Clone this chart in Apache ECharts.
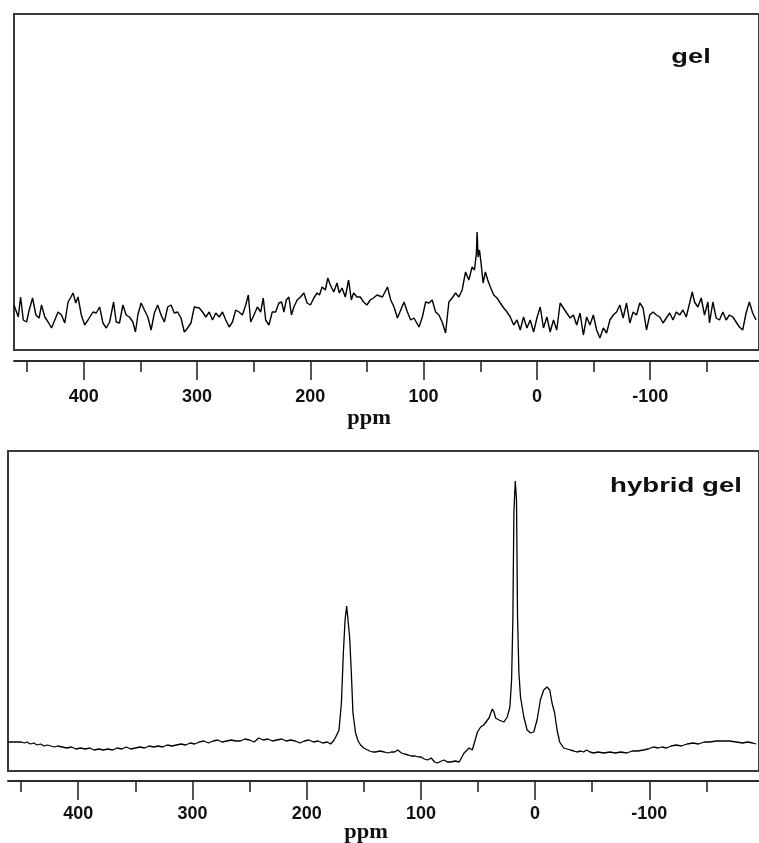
<!DOCTYPE html>
<html><head><meta charset="utf-8">
<script src="https://cdn.jsdelivr.net/npm/echarts@6/dist/echarts.min.js"></script>
<style>html,body{margin:0;padding:0;background:#fff}#c{width:759px;height:843px}</style>
</head><body><div id="c"></div>
<script>
// ---- data ----
const ppmMin = -196, ppmMax = 461.5;
const majorTicks = [400, 300, 200, 100, 0, -100];
const minorTicks = [450, 350, 250, 150, 50, -50, -150];
const axisName = 'ppm';
const topLabel = 'gel';
const bottomLabel = 'hybrid gel';

const topPpm = [461.5,459.8,457.7,455.7,453.3,450.4,448.1,445.1,442.2,439.3,437.2,434.3,431.4,428.4,425.5,422.6,419.6,416.7,413.8,411.7,409.4,407.0,405.0,402.1,399.1,396.2,391.8,388.9,385.9,383.0,380.1,377.1,373.6,371.3,368.4,365.4,362.5,359.6,356.6,354.3,352.2,349.3,346.4,343.4,340.5,337.6,334.7,331.7,328.8,325.9,322.9,320.0,317.1,314.1,311.2,308.3,305.3,302.4,298.0,295.1,292.2,289.2,286.3,283.4,280.4,277.5,274.6,271.6,268.7,265.8,262.9,259.9,257.0,254.7,252.6,249.7,246.7,243.8,241.5,239.4,236.5,233.6,230.6,227.7,225.3,223.3,221.2,218.9,216.6,214.5,211.6,208.6,205.7,202.8,199.9,196.9,194.0,191.9,189.6,186.7,184.6,182.3,179.3,176.4,174.4,172.0,169.1,166.2,163.8,161.8,158.8,155.9,153.0,150.0,147.1,144.2,141.2,136.3,131.9,129.0,126.1,123.1,120.2,117.3,114.3,111.4,108.5,104.1,101.1,98.2,95.3,92.4,89.4,86.5,83.6,80.6,77.7,74.8,71.8,68.9,66.0,63.0,60.1,57.2,55.1,53.4,52.8,51.9,50.7,49.3,47.5,45.5,43.4,41.1,38.1,35.2,32.3,29.3,26.4,23.5,20.5,17.6,14.7,11.8,8.8,5.9,2.9,0.0,-2.9,-5.8,-8.8,-11.7,-14.6,-17.5,-20.5,-23.4,-26.3,-29.3,-32.2,-35.1,-38.1,-41.0,-43.9,-46.8,-49.8,-52.7,-55.6,-58.6,-61.5,-64.4,-67.4,-70.3,-73.2,-76.1,-79.1,-82.0,-84.9,-87.9,-90.8,-93.7,-96.7,-99.6,-102.5,-105.5,-108.4,-111.3,-114.2,-117.2,-120.1,-123.0,-126.0,-128.9,-131.8,-134.8,-137.1,-139.1,-142.1,-145.0,-147.9,-150.9,-152.3,-155.3,-158.2,-161.1,-164.1,-167.0,-169.9,-172.9,-175.8,-178.7,-181.6,-184.6,-187.5,-190.4,-193.4];
const topIntensity = [45,45,33,53,30,28,40,52,35,32,45,33,28,22,30,38,35,27,48,52,57,47,53,35,25,30,38,37,43,27,22,28,48,28,27,45,35,33,28,18,35,47,40,33,20,37,45,35,28,43,45,37,38,32,18,22,27,43,42,38,33,38,30,37,33,38,30,23,28,40,38,35,45,55,28,35,43,38,52,30,25,38,38,47,48,38,50,53,35,43,50,53,57,47,45,52,57,55,63,60,72,65,58,67,57,62,53,70,50,57,53,53,48,45,50,52,55,53,63,50,43,32,40,48,38,30,32,23,33,48,47,50,38,35,28,17,48,52,57,53,60,78,70,83,80,97,118,93,100,87,67,78,70,63,55,52,47,42,38,33,25,30,20,33,22,30,18,32,43,22,33,18,30,20,47,42,37,32,35,25,37,15,33,25,35,20,12,22,17,30,35,38,45,32,47,27,38,35,47,42,20,35,38,35,33,27,32,37,30,38,35,40,33,47,58,48,43,52,35,48,27,48,32,30,38,30,35,33,28,23,20,37,48,37,30];

const bottomPpm = [461,455,450,447,444.7,442,439,436,433,430,427,424,421,418,414,410,406,402,398,394,390,386,382,378,374,370,366,362,358,354,350,346,342,338,334,330,326,322,318,314,310,306,302,298,294,290,286,282,278,274,270,266,262,258,254,250,246,242,238,234,230,226,222,218,214,210,206,202,198,194,190,186,182,179,176,174.6,171.7,169.6,167.9,166.4,165.0,163.5,162.4,160.9,159.5,157.2,155,152.8,150,148.4,145,142,139.7,136,132,129,126,123,120.3,117,114.5,111,108.7,105,102,99.9,97,94.1,91,88,85.4,82,79.6,77,73.8,70,66.5,62.2,57.8,55,53.5,50.5,47.7,45,43.3,40.4,37.5,36,34.6,31.7,27.3,24.4,22.1,20.6,19.5,18.6,17.4,16.3,15.4,14.2,12.8,9.9,7.0,4.1,1.2,-1.7,-4.6,-7.5,-10.4,-12.8,-14.8,-17.1,-19.2,-21.5,-25.0,-28,-30.8,-34,-36.6,-40,-42.4,-45,-48,-51.1,-55,-60,-65.6,-70,-75,-80.2,-85,-90,-94.7,-99,-103.4,-108,-111,-115.0,-119,-123.7,-128,-133,-138.3,-143,-148,-152.8,-158.6,-164,-170.2,-176.0,-181.8,-186,-190.5,-193.5];
const bottomIntensity = [29,29,29,28,29,27,28,26,27,25,26,25,24,25,24,23,24,22,23,22,23,21,22,21,22,21,23,22,24,22,23,24,23,25,24,25,24,26,25,26,27,26,28,27,29,30,28,30,31,29,30,31,30,30,32,31,29,33,31,32,30,31,32,30,31,30,28,30,31,29,30,28,29,27,31,34,41,68,118,151,165,163,134,98,58,38,30,26,23,21,20,19,19,20,19,18,19,19,21,18,17,16,15,15,14,14,12,11,13,9,8,10,11,9,9,10,9,18,23,21,22,39,44,46,48,53,62,59,53,51,49,54,64,91,151,258,290,271,154,98,74,54,41,38,39,51,71,81,84,81,68,58,41,29,23,22,21,20,19,20,19,21,19,18,19,18,19,18,19,18,20,20,21,22,24,23,24,23,25,26,25,27,28,27,29,29,30,30,30,29,28,29,28,27];

const pair = (xs, ys) => xs.map((x, i) => [x, ys[i]]);

const chart = echarts.init(document.getElementById('c'), null, {renderer: 'canvas'});
const axisColor = '#2a2a2a';
function majorAxis(gridIndex, offset, margin) {
  return {
    type: 'value', gridIndex, min: ppmMin, max: ppmMax, inverse: true, position: 'bottom', offset,
    axisLine: {show: true, onZero: false, lineStyle: {color: axisColor, width: 2}},
    axisTick: {show: true, customValues: majorTicks, length: 19, lineStyle: {color: axisColor, width: 1.6}},
    axisLabel: {show: true, customValues: majorTicks, margin, fontFamily: 'Liberation Sans', fontWeight: 'bold', fontSize: 18, color: '#111'},
    splitLine: {show: false}
  };
}
function minorAxis(gridIndex, offset) {
  return {
    type: 'value', gridIndex, min: ppmMin, max: ppmMax, inverse: true, position: 'bottom', offset,
    axisLine: {show: false, onZero: false},
    axisTick: {show: true, customValues: minorTicks, length: 11, lineStyle: {color: axisColor, width: 1.6}},
    axisLabel: {show: false},
    splitLine: {show: false}
  };
}
function labelText(text, x, y, font, sx) {
  return {type: 'text', x, y, scaleX: sx, z: 100,
    style: {text, font, fill: '#111', textAlign: 'center', textVerticalAlign: 'middle'}};
}

chart.setOption({
  animation: false,
  backgroundColor: '#fff',
  grid: [
    {left: 14, top: 14, width: 747, height: 336, show: true, borderColor: '#3a3a3a', borderWidth: 2, backgroundColor: 'transparent'},
    {left: 8, top: 451, width: 753, height: 320, show: true, borderColor: '#3a3a3a', borderWidth: 2, backgroundColor: 'transparent'}
  ],
  xAxis: [majorAxis(0, 11, 27), minorAxis(0, 11), majorAxis(1, 10, 24), minorAxis(1, 10)],
  yAxis: [
    {type: 'value', gridIndex: 0, min: 0, max: 336, show: false},
    {type: 'value', gridIndex: 1, min: 0, max: 320, show: false}
  ],
  series: [
    {type: 'line', xAxisIndex: 0, yAxisIndex: 0, data: pair(topPpm, topIntensity), symbol: 'none', lineStyle: {color: '#000', width: 1.4}},
    {type: 'line', xAxisIndex: 2, yAxisIndex: 1, data: pair(bottomPpm, bottomIntensity), symbol: 'none', lineStyle: {color: '#000', width: 1.3}}
  ],
  graphic: [
    labelText(topLabel, 691, 57, 'bold 21px "Liberation Sans"', 1.3),
    labelText(bottomLabel, 676, 486, 'bold 20px "Liberation Sans"', 1.38),
    labelText(axisName, 369, 419, 'bold 20px "Liberation Serif"', 1.12),
    labelText(axisName, 366, 833, 'bold 20px "Liberation Serif"', 1.12)
  ]
});
</script>
</body></html>
